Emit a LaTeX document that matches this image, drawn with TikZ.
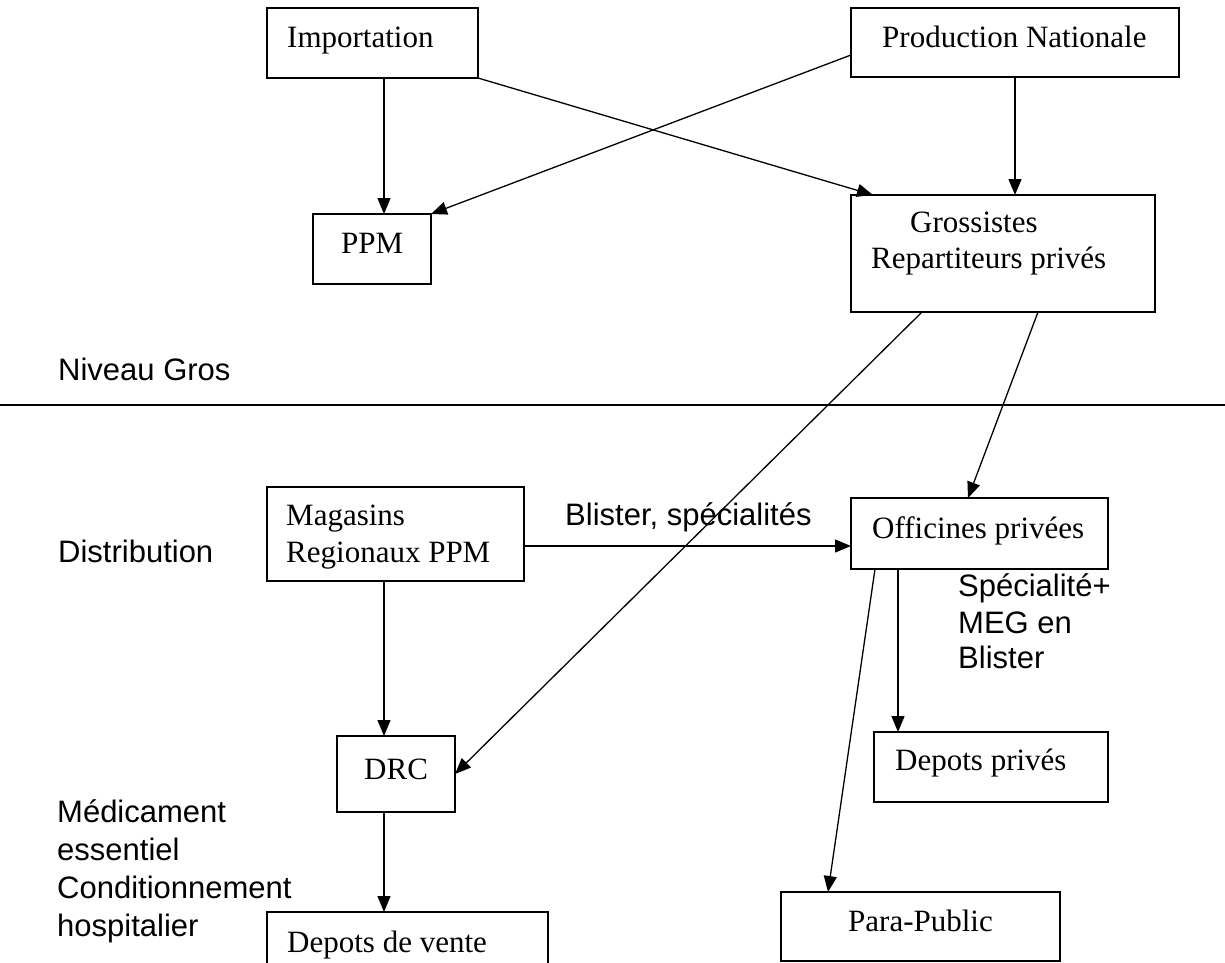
\documentclass[tikz,border=0pt]{standalone}
\usepackage{fontspec}
\setmainfont{Liberation Serif}
\newfontfamily\sansf{Liberation Sans}
\usetikzlibrary{arrows.meta,calc}
\begin{document}
\begin{tikzpicture}[x=1pt,y=-1pt,
  box/.style={draw, line width=1.5pt, inner sep=0pt, outer sep=0pt, anchor=north west},
  lbl/.style={anchor=base west, inner sep=0pt, font=\fontsize{31}{37}\selectfont},
  slbl/.style={anchor=base west, inner sep=0pt, font=\sansf\fontsize{31}{37}\selectfont},
  arr/.style={-{Triangle[length=16pt,width=13pt]}, line width=1.3pt},
  plain/.style={line width=1.3pt}]
\useasboundingbox[fill=white] (0,0) rectangle (1225,962);
% boxes
\node[box, minimum width=211pt, minimum height=70pt] (imp) at (267,8) {};
\node[box, minimum width=328pt, minimum height=69pt] (prod) at (851,8) {};
\node[box, minimum width=118pt, minimum height=70pt] (ppm) at (313,214) {};
\node[box, minimum width=304pt, minimum height=117pt] (gross) at (851,195) {};
\node[box, minimum width=257pt, minimum height=94pt] (mag) at (267,487) {};
\node[box, minimum width=257pt, minimum height=71pt] (off) at (851,498) {};
\node[box, minimum width=118pt, minimum height=76pt] (drc) at (337,736) {};
\node[box, minimum width=234pt, minimum height=70pt] (dpriv) at (874,732) {};
\node[box, minimum width=281pt, minimum height=70pt] (dvente) at (267,912) {};
\node[box, minimum width=279pt, minimum height=69pt] (para) at (781,892) {};
% box texts
\node[lbl] (timp) at (287,47) {Importation};
\node[lbl] (tprod) at (882,47) {Production Nationale};
\node[lbl] (tppm) at (341,253) {PPM};
\node[lbl] (tgross1) at (910,232) {Grossistes};
\node[lbl] (tgross2) at (871,268) {Repartiteurs privés};
\node[lbl] (tmag1) at (286,525) {Magasins};
\node[lbl] (tmag2) at (286,562) {Regionaux PPM};
\node[lbl] (toff) at (872,538) {Officines privées};
\node[lbl] (tdrc) at (364,779) {DRC};
\node[lbl] (tdpriv) at (895,770) {Depots privés};
\node[lbl] (tdvente) at (287,952) {Depots de vente};
\node[lbl] (tpara) at (848,931) {Para-Public};
% free labels
\node[slbl] (niv) at (58,380) {Niveau Gros};
\node[slbl] (dist) at (58,562) {Distribution};
\node[slbl] (blis) at (565,525) {Blister, spécialités};
\node[slbl] (spec1) at (958,596) {Spécialité+};
\node[slbl] (spec2) at (958,633) {MEG en};
\node[slbl] (spec3) at (958,668) {Blister};
\node[slbl] (med1) at (57,822) {Médicament};
\node[slbl] (med2) at (57,860) {essentiel};
\node[slbl] (med3) at (57,898) {Conditionnement};
\node[slbl] (med4) at (57,936) {hospitalier};
% separator line
\coordinate (hl) at (0,405);
\coordinate (hr) at (1225,405);
\draw[plain] (hl) -- (hr);
% connectors
\coordinate (impS) at ($(imp.south west)+(117,0)$);
\draw[arr] (impS) -- (impS |- ppm.north);
\draw[arr] (imp.south east) -- ($(gross.north west)+(22,0)$);
\draw[arr] ($(prod.north west)+(0,47)$) -- (ppm.north east);
\coordinate (prodS) at ($(prod.south west)+(164,0)$);
\draw[arr] (prodS) -- (prodS |- gross.north);
\draw[arr] ($(gross.south west)+(71,0)$) -- (drc.east);
\draw[arr] ($(gross.south west)+(187,0)$) -- ($(off.north west)+(117,0)$);
\coordinate (magE) at ($(mag.north east)+(0,59)$);
\draw[arr] (magE) -- (magE -| off.west);
\coordinate (magS) at ($(mag.south west)+(117,0)$);
\draw[arr] (magS) -- (magS |- drc.north);
\coordinate (drcS) at (magS |- drc.south);
\draw[arr] (drcS) -- (drcS |- dvente.north);
\coordinate (offS1) at ($(off.south west)+(47,0)$);
\draw[arr] (offS1) -- (offS1 |- dpriv.north);
\draw[arr] ($(off.south west)+(24,0)$) -- ($(para.north west)+(47,0)$);
\end{tikzpicture}
\end{document}
